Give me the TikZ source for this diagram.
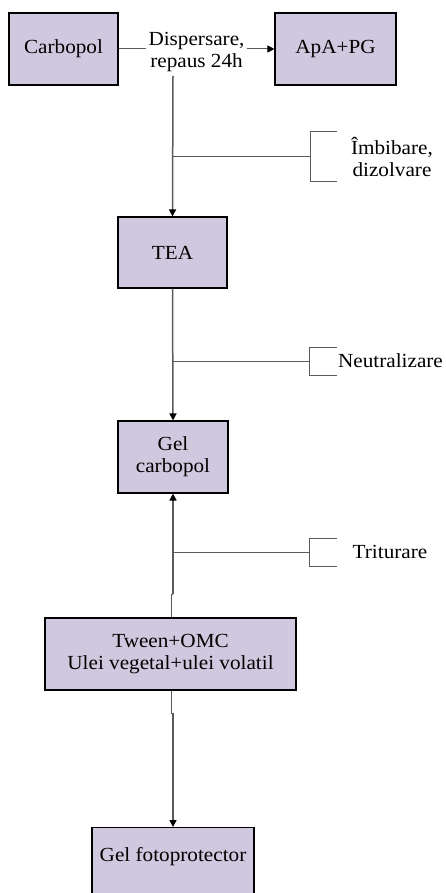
\documentclass[tikz,border=0pt]{standalone}
\usepackage{fontspec}
\setmainfont{Liberation Serif}[FakeStretch=1.06]
\usetikzlibrary{arrows.meta,calc}
\definecolor{boxfill}{RGB}{208,200,222}
\definecolor{linegray}{RGB}{90,90,90}
\tikzset{
  procbox/.style={draw=black, line width=1.1pt, fill=boxfill, inner sep=0pt, align=center, font=\fontsize{20}{22}\selectfont},
  lbl/.style={inner sep=2pt, align=center, font=\fontsize{20}{22}\selectfont},
  flow/.style={draw=linegray, line width=1.5pt},
  branch/.style={draw=linegray, line width=1pt},
  tip/.style={-{Triangle[length=7pt,width=7pt,color=black]}}
}
\begin{document}
\begin{tikzpicture}[x=1pt,y=1pt]
\useasboundingbox (0,0) rectangle (445,-893);
% boxes
\node[procbox, minimum width=109pt, minimum height=72pt] (carb) at (63.5,-49) {Carbopol};
\node[procbox, minimum width=121pt, minimum height=72pt] (apa) at (335.5,-49) {ApA+PG};
\node[procbox, minimum width=109pt, minimum height=71pt] (tea) at (172.5,-252.5) {TEA};
\node[procbox, minimum width=110pt, minimum height=72pt] (gel) at (173,-457) {Gel\\carbopol};
\node[procbox, minimum width=251pt, minimum height=72pt] (tween) at (170.5,-654) {Tween+OMC\\Ulei vegetal+ulei volatil};
\node[procbox, minimum width=162pt, minimum height=80pt, anchor=north] (foto) at (173,-827) {};
\node[lbl] (fototxt) at (173,-857) {Gel fotoprotector};
% labels
\node[lbl] (disp) at (196.5,-52) {Dispersare,\\repaus 24h};
\node[lbl] (imb) at (392,-157) {Îmbibare,\\dizolvare};
\node[lbl] (neut) at (390.5,-361) {Neutralizare};
\node[lbl] (trit) at (390,-552) {Triturare};
% coordinates
\coordinate (v1) at (173,-76);
\coordinate (b1) at (173,-157);
\coordinate (k1) at (310,-157);
\coordinate (b2) at (173,-361);
\coordinate (k2) at (309,-361);
\coordinate (b3) at (173,-552);
\coordinate (k3) at (309,-552);
\coordinate (j1) at (171,-594);
\coordinate (j2) at (173,-594);
\coordinate (j3) at (171,-713);
\coordinate (j4) at (173,-713);
% top connectors
\draw[branch] (carb.east) -- (disp.west |- carb.east);
\draw[branch, tip] (disp.east |- apa.west) -- (apa.west);
\draw[flow, tip] (v1) -- (tea.north);
\draw[branch] (b1) -- (k1);
\draw[branch] ($(k1)+(27,25)$) -- ($(k1)+(0,25)$) -- ($(k1)+(0,-25)$) -- ($(k1)+(27,-25)$);
% TEA -> Gel
\draw[flow, tip] (tea.south) -- (gel.north);
\draw[branch] (b2) -- (k2);
\draw[branch] ($(k2)+(28,14)$) -- ($(k2)+(0,14)$) -- ($(k2)+(0,-14)$) -- ($(k2)+(28,-14)$);
% Tween -> Gel
\draw[branch] (tween.north -| j1) -- (j1) -- (j2);
\draw[flow, tip] (j2) -- (gel.south);
\draw[branch] (b3) -- (k3);
\draw[branch] ($(k3)+(28,14)$) -- ($(k3)+(0,14)$) -- ($(k3)+(0,-14)$) -- ($(k3)+(28,-14)$);
% Tween -> foto
\draw[branch] (tween.south -| j3) -- (j3) -- (j4);
\draw[flow, tip] (j4) -- (foto.north);
\end{tikzpicture}
\end{document}
